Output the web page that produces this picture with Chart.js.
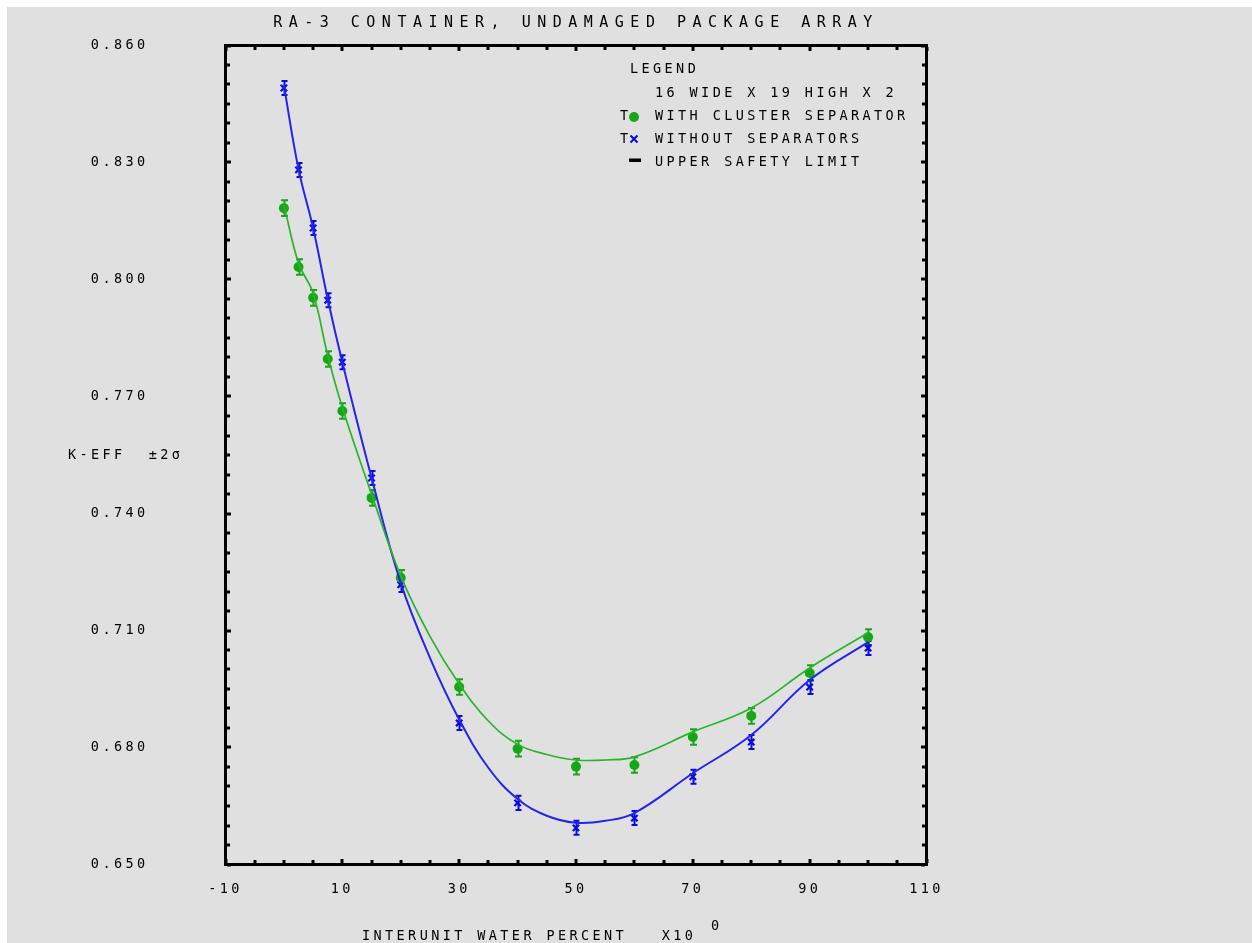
<!DOCTYPE html>
<html><head><meta charset="utf-8">
<script src="https://cdn.jsdelivr.net/npm/chart.js@4/dist/chart.umd.min.js"></script>
<style>
html,body{margin:0;padding:0;background:#fff;}
#wrap{position:absolute;left:7px;top:7px;width:1245px;height:936px;background:#e0e0e0;}
canvas{display:block;}
</style></head><body>
<div id="wrap"><canvas id="c" width="1245" height="936"></canvas></div>
<script>
// ---- data ----
const waterPercent = [0, 2.5, 5, 7.5, 10, 15, 20, 30, 40, 50, 60, 70, 80, 90, 100];
const keffWithSeparator = [0.8183, 0.8032, 0.7953, 0.7796, 0.7663, 0.7440, 0.7235, 0.6955, 0.6797, 0.6751, 0.6755, 0.6827, 0.6881, 0.6991, 0.7083];
const errWithSeparator  = [0.0020, 0.0020, 0.0020, 0.0020, 0.0020, 0.0020, 0.0020, 0.0020, 0.0020, 0.0020, 0.0020, 0.0020, 0.0020, 0.0020, 0.0020];
const keffWithoutSeparators = [0.8491, 0.8281, 0.8132, 0.7947, 0.7788, 0.7491, 0.7217, 0.6863, 0.6658, 0.6594, 0.6619, 0.6725, 0.6814, 0.6955, 0.7055];
const errWithoutSeparators  = [0.0018, 0.0018, 0.0018, 0.0018, 0.0018, 0.0018, 0.0018, 0.0018, 0.0018, 0.0018, 0.0018, 0.0018, 0.0018, 0.0018, 0.0018];
const fitWater = [0, 2.5, 5, 7.5, 10, 15, 20, 25, 30, 35, 40, 45, 50, 55, 60, 70, 80, 90, 100];
const fitWithSeparator = [0.8192, 0.8042, 0.7965, 0.7805, 0.7672, 0.7450, 0.7240, 0.7085, 0.6963, 0.6868, 0.6808, 0.6782, 0.6768, 0.6768, 0.6776, 0.6840, 0.6901, 0.7004, 0.7094];
const fitWithoutSeparators = [0.8497, 0.8283, 0.8132, 0.7950, 0.7788, 0.7492, 0.7222, 0.7030, 0.6872, 0.6748, 0.6668, 0.6625, 0.6607, 0.6612, 0.6632, 0.6734, 0.6832, 0.6973, 0.7070];
const xTickValues = [-10, 10, 30, 50, 70, 90, 110];
const yTickValues = [0.650, 0.680, 0.710, 0.740, 0.770, 0.800, 0.830, 0.860];
const xMinorStep = 5;
const yMinorStep = 0.005;
const titleText = 'RA-3 CONTAINER, UNDAMAGED PACKAGE ARRAY';
const xAxisTitle = 'INTERUNIT WATER PERCENT   X10';
const xAxisExponent = '0';
const yAxisTitle = 'K-EFF  \u00B12\u03C3';
const legendLines = ['LEGEND', '16 WIDE X 19 HIGH X 2', 'WITH CLUSTER SEPARATOR', 'WITHOUT SEPARATORS', 'UPPER SAFETY LIMIT'];

const GREEN = '#16a616';
const GREEN_LINE = '#2ab42a';
const BLUE = '#0a0ae0';
const BLUE_LINE = '#2424ee';
const FAMILY = "'DejaVu Sans Mono', 'Liberation Mono', monospace";
const LS = '3.4px';

const fitPts = (ys) => fitWater.map((x, i) => ({x, y: ys[i]}));
const pts = (ys) => waterPercent.map((x, i) => ({x, y: ys[i]}));

const decor = {
  id: 'decor',
  beforeDraw(chart) {
    chart.ctx.letterSpacing = LS;
    const tb = chart.titleBlock;
    if (tb && !tb._wrapped) {
      const orig = tb.draw;
      tb.draw = function () {
        const c = this.ctx || chart.ctx;
        const prev = c.letterSpacing;
        c.letterSpacing = '6.5px';
        orig.apply(this, arguments);
        c.letterSpacing = prev;
      };
      tb._wrapped = true;
    }
  },
  beforeDatasetsDraw(chart) {
    const ctx = chart.ctx, xs = chart.scales.x, ys = chart.scales.y;
    const drawErr = (vals, errs, color, cap) => {
      ctx.save();
      ctx.strokeStyle = color; ctx.lineWidth = 2;
      vals.forEach((v, i) => {
        const px = Math.round(xs.getPixelForValue(waterPercent[i])) + 0.5;
        const y1 = ys.getPixelForValue(v + errs[i]);
        const y2 = ys.getPixelForValue(v - errs[i]);
        ctx.beginPath();
        ctx.moveTo(px, y1); ctx.lineTo(px, y2);
        ctx.moveTo(px - cap, y1); ctx.lineTo(px + cap, y1);
        ctx.moveTo(px - cap, y2); ctx.lineTo(px + cap, y2);
        ctx.stroke();
      });
      ctx.restore();
    };
    drawErr(keffWithSeparator, errWithSeparator, GREEN, 3.5);
    drawErr(keffWithoutSeparators, errWithoutSeparators, BLUE, 3);
  },
  afterDraw(chart) {
    const ctx = chart.ctx, a = chart.chartArea, xs = chart.scales.x, ys = chart.scales.y;
    ctx.save();
    // frame
    ctx.strokeStyle = '#000'; ctx.lineWidth = 3;
    ctx.strokeRect(a.left, a.top, a.right - a.left, a.bottom - a.top);
    // inward ticks
    ctx.fillStyle = '#000';
    const xmin = xs.min, xmax = xs.max;
    for (let k = 0; xmin + k * xMinorStep <= xmax + 1e-9; k++) {
      const v = xmin + k * xMinorStep;
      const major = xTickValues.some(t => Math.abs(t - v) < 1e-9);
      const len = major ? 4 : 3;
      const px = Math.round(xs.getPixelForValue(v));
      ctx.fillRect(px - 1.5, a.top + 1.5, 3, len);
      ctx.fillRect(px - 1.5, a.bottom - 1.5 - len, 3, len);
    }
    const ymin = ys.min, ymax = ys.max;
    const nY = Math.round((ymax - ymin) / yMinorStep);
    for (let k = 0; k <= nY; k++) {
      const v = ymin + k * yMinorStep;
      const major = yTickValues.some(t => Math.abs(t - v) < 1e-9);
      const len = major ? 4 : 3;
      const py = Math.round(ys.getPixelForValue(v));
      ctx.fillRect(a.left + 1.5, py - 1.5, len, 3);
      ctx.fillRect(a.right - 1.5 - len, py - 1.5, len, 3);
    }
    // texts
    ctx.letterSpacing = LS;
    ctx.font = '13.5px ' + FAMILY;
    ctx.fillStyle = '#000';
    ctx.textBaseline = 'middle';
    ctx.textAlign = 'left';
    ctx.fillText(yAxisTitle, 61, 448);
    ctx.fillText(xAxisTitle, 355, 929);
    ctx.fillText(xAxisExponent, 704, 919);
    // legend
    ctx.fillText(legendLines[0], 623, 62);
    ctx.fillText(legendLines[1], 648, 86);
    ctx.fillText('T', 613, 109);
    ctx.fillText(legendLines[2], 648, 109);
    ctx.fillText('T', 613, 132);
    ctx.fillText(legendLines[3], 648, 132);
    ctx.fillText(legendLines[4], 648, 155);
    ctx.fillStyle = GREEN;
    ctx.beginPath(); ctx.arc(627, 110, 5, 0, Math.PI * 2); ctx.fill();
    ctx.strokeStyle = BLUE; ctx.lineWidth = 2;
    ctx.beginPath();
    ctx.moveTo(623.5, 128.5); ctx.lineTo(630.5, 135.5);
    ctx.moveTo(630.5, 128.5); ctx.lineTo(623.5, 135.5);
    ctx.stroke();
    ctx.fillStyle = '#000';
    ctx.fillRect(622, 151.5, 12, 3.5);
    ctx.restore();
  }
};

const tickFont = {family: FAMILY, size: 13.5, weight: 'normal'};
const hiddenGrid = (len) => ({display: true, drawOnChartArea: false, drawTicks: true, tickLength: len, color: 'rgba(0,0,0,0)'});

new Chart(document.getElementById('c'), {
  type: 'line',
  data: {
    datasets: [
      {label: 'fit with cluster separator', data: fitPts(fitWithSeparator), borderColor: GREEN_LINE, borderWidth: 1.7, pointRadius: 0, tension: 0.4, fill: false},
      {label: 'fit without separators', data: fitPts(fitWithoutSeparators), borderColor: BLUE_LINE, borderWidth: 2, pointRadius: 0, tension: 0.4, fill: false},
      {label: 'WITH CLUSTER SEPARATOR', data: pts(keffWithSeparator), showLine: false, pointStyle: 'circle', pointRadius: 5, backgroundColor: GREEN, borderColor: GREEN, borderWidth: 0},
      {label: 'WITHOUT SEPARATORS', data: pts(keffWithoutSeparators), showLine: false, pointStyle: 'crossRot', pointRadius: 4.5, borderColor: BLUE, backgroundColor: BLUE, borderWidth: 2.2}
    ]
  },
  options: {
    responsive: false, animation: false, devicePixelRatio: 1,
    layout: {padding: {left: 0, top: 0, bottom: 0, right: 325.5}},
    plugins: {
      legend: {display: false},
      tooltip: {enabled: false},
      title: {display: true, text: titleText, fullSize: false, color: '#000', font: {family: FAMILY, size: 15, weight: 'normal'}, padding: {top: 7.5, bottom: 13}}
    },
    scales: {
      x: {
        type: 'linear', min: -10, max: 110,
        grid: hiddenGrid(6), border: {display: false},
        afterBuildTicks: s => { s.ticks = xTickValues.map(v => ({value: v})); },
        ticks: {font: tickFont, color: '#000', padding: 11, autoSkip: false, maxRotation: 0, callback: v => String(v)},
        afterFit: s => { s.height = 78.5; }
      },
      y: {
        type: 'linear', min: 0.65, max: 0.86,
        grid: hiddenGrid(74), border: {display: false},
        afterBuildTicks: s => { s.ticks = yTickValues.map(v => ({value: v})); },
        ticks: {font: tickFont, color: '#000', padding: 3, autoSkip: false, callback: v => Number(v).toFixed(3)},
        afterFit: s => { s.width = 218.5; }
      }
    }
  },
  plugins: [decor]
});
</script>
</body></html>
